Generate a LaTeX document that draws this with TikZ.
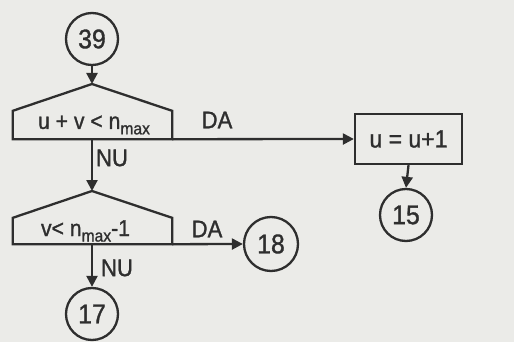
\documentclass[tikz,border=0pt]{standalone}
\usepackage{fontspec}
\setmainfont{Liberation Sans}[FakeBold=1.2,AutoFakeBold=1.2,FakeStretch=0.92]
\usetikzlibrary{arrows.meta}
\definecolor{ink}{HTML}{2E2E2E}
\definecolor{paper}{HTML}{EBEBE8}
\newcommand{\sbmax}{\raisebox{-0.45ex}{\fontsize{17}{17}\selectfont max}}
\begin{document}
\begin{tikzpicture}[x=1pt,y=-1pt,
  ln/.style={draw=ink,line width=2.3pt},
  arr/.style={ln,-{Triangle[length=11pt,width=11pt]}},
  conn/.style={circle,draw=ink,line width=2.3pt,minimum size=52pt,inner sep=0pt,text=ink,font=\fontsize{27}{27}\selectfont\bfseries},
  dec/.style={rectangle,minimum width=159pt,inner sep=0pt,text=ink,font=\fontsize{23}{23}\selectfont\bfseries},
  proc/.style={rectangle,draw=ink,line width=2.3pt,minimum width=107pt,minimum height=50pt,inner sep=0pt,text=ink,font=\fontsize{25}{25}\selectfont\bfseries},
  lab/.style={text=ink,font=\fontsize{24}{24}\selectfont\bfseries,inner sep=0pt}]
\useasboundingbox[fill=paper] (0,0) rectangle (514,342);
% nodes
\node[conn] (c39) at (92,39) {39};
\coordinate (a1) at (92,84);
\node[dec,minimum height=28pt] (d1) at (92.5,125) {\hspace*{3pt}u + v < n\sbmax};
\node[proc] (box) at (408.5,139) {u = u+1};
\node[conn] (c15) at (406,215) {15};
\coordinate (a2) at (92,191);
\node[dec,minimum height=26pt] (d2) at (92.5,231) {v< n\sbmax-1\hspace*{14pt}};
\node[conn,minimum size=54pt] (c18) at (271,244) {18};
\node[conn] (c17) at (92,314) {17};
% labels
\node[lab] (l1) at (217,120) {DA};
\node[lab] (l2) at (112,158) {NU};
\node[lab] (l3) at (207,229) {DA};
\node[lab] (l4) at (117,268) {NU};
% decision shapes
\draw[ln,line join=miter] (d1.south west) -- (d1.north west) -- (a1) -- (d1.north east) -- (d1.south east) -- cycle;
\draw[ln,line join=miter] (d2.south west) -- (d2.north west) -- (a2) -- (d2.north east) -- (d2.south east) -- cycle;
% connectors
\draw[arr] (c39) -- (a1);
\draw[arr] (d1.south east) -- (box.west);
\draw[arr] (a1 |- d1.south) -- (a2);
\draw[arr] (box.south) -- (c15.north);
\draw[arr] (d2.south east) -- (c18.west);
\draw[arr] (a2 |- d2.south) -- (c17.north);
\end{tikzpicture}
\end{document}
